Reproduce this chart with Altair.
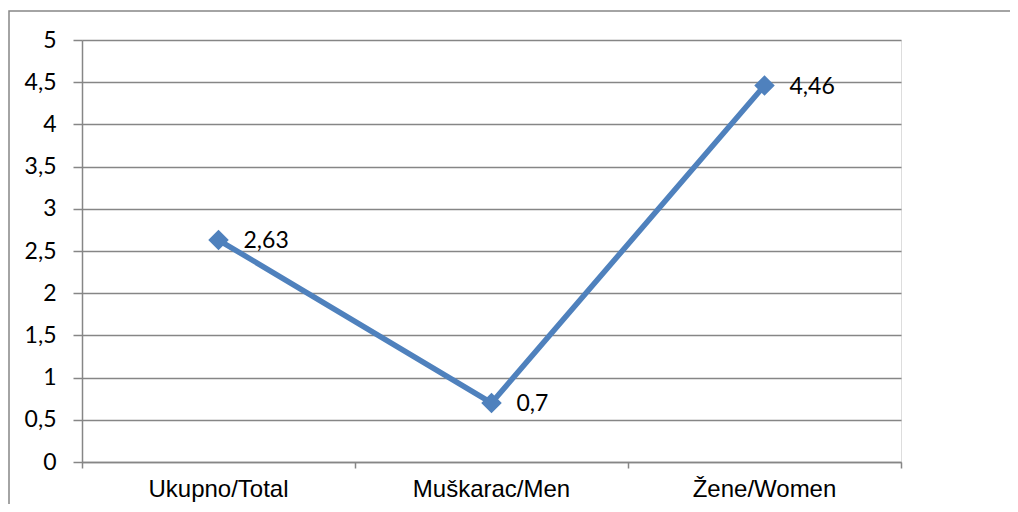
import altair as alt
import pandas as pd

categories = ["Ukupno/Total", "Muškarac/Men", "Žene/Women"]
values = [2.63, 0.7, 4.46]
labels = ["2,63", "0,7", "4,46"]
positions = [0.5, 1.5, 2.5]

df = pd.DataFrame({"pos": positions, "cat": categories, "val": values, "lab": labels})

W, H = 819, 422
GRAY = "#868686"

xs = alt.Scale(domain=[0, 3], nice=False, zero=False)
ys = alt.Scale(domain=[0, 5], nice=False)

xaxis = alt.Axis(values=[0, 1, 2, 3], labels=False, title=None, grid=False,
                 tickSize=6, tickColor=GRAY, domainColor=GRAY, domainWidth=1.5, tickWidth=1.5)
yaxis = alt.Axis(values=[0, 0.5, 1, 1.5, 2, 2.5, 3, 3.5, 4, 4.5, 5], title=None,
                 labelExpr="replace(format(datum.value, '~g'), '.', ',')",
                 labelFont="Lato", labelFontSize=23, labelColor="#000000", labelPadding=17,
                 tickSize=9, tickColor=GRAY, tickWidth=1.5, domainColor=GRAY, domainWidth=1.5,
                 grid=True, gridColor=GRAY, gridWidth=1.5)

base = alt.Chart(df)

line = base.mark_line(color="#4F81BD", strokeWidth=5.5).encode(
    x=alt.X("pos:Q", scale=xs, axis=xaxis),
    y=alt.Y("val:Q", scale=ys, axis=yaxis),
)
pts = base.mark_point(shape="diamond", filled=True, size=420, color="#4F81BD", opacity=1).encode(
    x=alt.X("pos:Q", scale=xs), y=alt.Y("val:Q", scale=ys)
)
txt = base.mark_text(align="left", baseline="middle", dx=25, dy=1, font="Lato", fontSize=23,
                     color="#000000").encode(
    x=alt.X("pos:Q", scale=xs), y=alt.Y("val:Q", scale=ys), text="lab:N"
)
cats = base.mark_text(align="center", baseline="alphabetic", font="Liberation Sans", fontSize=24,
                      color="#000000").encode(
    x=alt.X("pos:Q", scale=xs), y=alt.value(H + 35), text="cat:N"
)
border = alt.Chart(pd.DataFrame({"k": [0]})).mark_rect(
    fill=None, stroke=GRAY, strokeWidth=1.5
).encode(x=alt.value(-73), x2=alt.value(960), y=alt.value(-29), y2=alt.value(520))

chart = alt.layer(border, line, pts, txt, cats).properties(
    width=W, height=H,
    autosize=alt.AutoSizeParams(type="none"),
    padding={"left": 74, "top": 32, "right": 109, "bottom": 42},
).configure_view(stroke=None).configure(background="white")

chart.save("out.html", embed_options={"renderer": "svg", "actions": False})
